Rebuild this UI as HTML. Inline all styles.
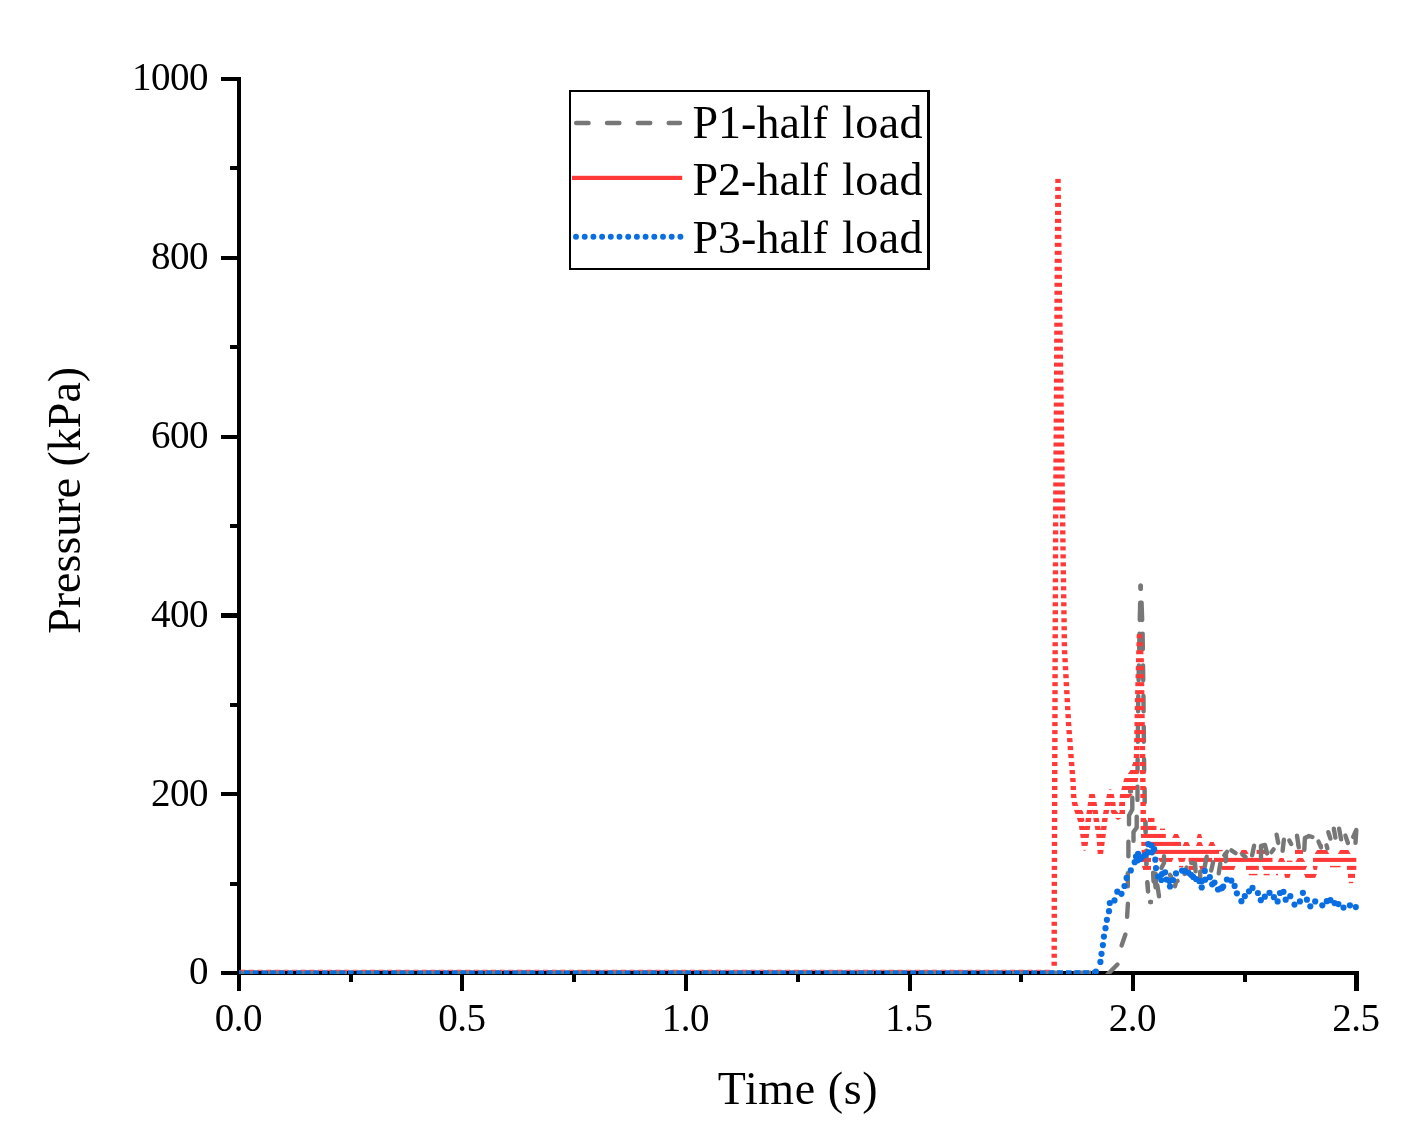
<!DOCTYPE html>
<html><head><meta charset="utf-8"><title>Pressure vs Time</title>
<style>html,body{margin:0;padding:0;background:#fff}svg{display:block;will-change:transform}text{font-family:"Liberation Serif",serif;fill:#000}</style>
</head><body>
<svg width="1423" height="1144" viewBox="0 0 1423 1144">
<rect width="1423" height="1144" fill="#fff"/>
<defs>
<clipPath id="frame"><rect x="237" y="60" width="1124" height="914"/></clipPath>
<clipPath id="stripes">
<rect x="1000" y="178.90" width="400" height="4.05"/>
<rect x="1000" y="186.89" width="400" height="4.05"/>
<rect x="1000" y="194.88" width="400" height="4.05"/>
<rect x="1000" y="202.86" width="400" height="4.05"/>
<rect x="1000" y="210.85" width="400" height="4.05"/>
<rect x="1000" y="218.84" width="400" height="4.05"/>
<rect x="1000" y="226.83" width="400" height="4.05"/>
<rect x="1000" y="234.82" width="400" height="4.05"/>
<rect x="1000" y="242.80" width="400" height="4.05"/>
<rect x="1000" y="250.79" width="400" height="4.05"/>
<rect x="1000" y="258.78" width="400" height="4.05"/>
<rect x="1000" y="266.77" width="400" height="4.05"/>
<rect x="1000" y="274.76" width="400" height="4.05"/>
<rect x="1000" y="282.74" width="400" height="4.05"/>
<rect x="1000" y="290.73" width="400" height="4.05"/>
<rect x="1000" y="298.72" width="400" height="4.05"/>
<rect x="1000" y="306.71" width="400" height="4.05"/>
<rect x="1000" y="314.70" width="400" height="4.05"/>
<rect x="1000" y="322.68" width="400" height="4.05"/>
<rect x="1000" y="330.67" width="400" height="4.05"/>
<rect x="1000" y="338.66" width="400" height="4.05"/>
<rect x="1000" y="346.65" width="400" height="4.05"/>
<rect x="1000" y="354.64" width="400" height="4.05"/>
<rect x="1000" y="362.62" width="400" height="4.05"/>
<rect x="1000" y="370.61" width="400" height="4.05"/>
<rect x="1000" y="378.60" width="400" height="4.05"/>
<rect x="1000" y="386.59" width="400" height="4.05"/>
<rect x="1000" y="394.58" width="400" height="4.05"/>
<rect x="1000" y="402.56" width="400" height="4.05"/>
<rect x="1000" y="410.55" width="400" height="4.05"/>
<rect x="1000" y="418.54" width="400" height="4.05"/>
<rect x="1000" y="426.53" width="400" height="4.05"/>
<rect x="1000" y="434.52" width="400" height="4.05"/>
<rect x="1000" y="442.50" width="400" height="4.05"/>
<rect x="1000" y="450.49" width="400" height="4.05"/>
<rect x="1000" y="458.48" width="400" height="4.05"/>
<rect x="1000" y="466.47" width="400" height="4.05"/>
<rect x="1000" y="474.46" width="400" height="4.05"/>
<rect x="1000" y="482.44" width="400" height="4.05"/>
<rect x="1000" y="490.43" width="400" height="4.05"/>
<rect x="1000" y="498.42" width="400" height="4.05"/>
<rect x="1000" y="506.41" width="400" height="4.05"/>
<rect x="1000" y="514.40" width="400" height="4.05"/>
<rect x="1000" y="522.38" width="400" height="4.05"/>
<rect x="1000" y="530.37" width="400" height="4.05"/>
<rect x="1000" y="538.36" width="400" height="4.05"/>
<rect x="1000" y="546.35" width="400" height="4.05"/>
<rect x="1000" y="554.34" width="400" height="4.05"/>
<rect x="1000" y="562.32" width="400" height="4.05"/>
<rect x="1000" y="570.31" width="400" height="4.05"/>
<rect x="1000" y="578.30" width="400" height="4.05"/>
<rect x="1000" y="586.29" width="400" height="4.05"/>
<rect x="1000" y="594.28" width="400" height="4.05"/>
<rect x="1000" y="602.26" width="400" height="4.05"/>
<rect x="1000" y="610.25" width="400" height="4.05"/>
<rect x="1000" y="618.24" width="400" height="4.05"/>
<rect x="1000" y="626.23" width="400" height="4.05"/>
<rect x="1000" y="634.22" width="400" height="4.05"/>
<rect x="1000" y="642.20" width="400" height="4.05"/>
<rect x="1000" y="650.19" width="400" height="4.05"/>
<rect x="1000" y="658.18" width="400" height="4.05"/>
<rect x="1000" y="666.17" width="400" height="4.05"/>
<rect x="1000" y="674.16" width="400" height="4.05"/>
<rect x="1000" y="682.14" width="400" height="4.05"/>
<rect x="1000" y="690.13" width="400" height="4.05"/>
<rect x="1000" y="698.12" width="400" height="4.05"/>
<rect x="1000" y="706.11" width="400" height="4.05"/>
<rect x="1000" y="714.10" width="400" height="4.05"/>
<rect x="1000" y="722.08" width="400" height="4.05"/>
<rect x="1000" y="730.07" width="400" height="4.05"/>
<rect x="1000" y="738.06" width="400" height="4.05"/>
<rect x="1000" y="746.05" width="400" height="4.05"/>
<rect x="1000" y="754.04" width="400" height="4.05"/>
<rect x="1000" y="762.02" width="400" height="4.05"/>
<rect x="1000" y="770.01" width="400" height="4.05"/>
<rect x="1000" y="778.00" width="400" height="4.05"/>
<rect x="1000" y="785.99" width="400" height="4.05"/>
<rect x="1000" y="793.98" width="400" height="4.05"/>
<rect x="1000" y="801.96" width="400" height="4.05"/>
<rect x="1000" y="809.95" width="400" height="4.05"/>
<rect x="1000" y="817.94" width="400" height="4.05"/>
<rect x="1000" y="825.93" width="400" height="4.05"/>
<rect x="1000" y="833.92" width="400" height="4.05"/>
<rect x="1000" y="841.90" width="400" height="4.05"/>
<rect x="1000" y="849.89" width="400" height="4.05"/>
<rect x="1000" y="857.88" width="400" height="4.05"/>
<rect x="1000" y="865.87" width="400" height="4.05"/>
<rect x="1000" y="873.86" width="400" height="4.05"/>
<rect x="1000" y="881.84" width="400" height="4.05"/>
<rect x="1000" y="889.83" width="400" height="4.05"/>
<rect x="1000" y="897.82" width="400" height="4.05"/>
<rect x="1000" y="905.81" width="400" height="4.05"/>
<rect x="1000" y="913.80" width="400" height="4.05"/>
<rect x="1000" y="921.78" width="400" height="4.05"/>
<rect x="1000" y="929.77" width="400" height="4.05"/>
<rect x="1000" y="937.76" width="400" height="4.05"/>
<rect x="1000" y="945.75" width="400" height="4.05"/>
<rect x="1000" y="953.74" width="400" height="4.05"/>
<rect x="1000" y="961.72" width="400" height="4.05"/>
<rect x="1000" y="969.71" width="400" height="4.05"/>
<rect x="1000" y="977.70" width="400" height="4.05"/>
</clipPath>
<clipPath id="rightpart"><rect x="1146.5" y="780" width="230" height="194"/></clipPath>
</defs>
<g fill="#000" shape-rendering="crispEdges">
<rect x="237" y="77" width="4" height="914"/>
<rect x="221" y="971" width="1138" height="4"/>
<rect x="221" y="971" width="18" height="4"/>
<rect x="230" y="882" width="9" height="4"/>
<rect x="221" y="792" width="18" height="4"/>
<rect x="230" y="703" width="9" height="4"/>
<rect x="221" y="613" width="18" height="5"/>
<rect x="230" y="524" width="9" height="4"/>
<rect x="221" y="435" width="18" height="4"/>
<rect x="230" y="345" width="9" height="4"/>
<rect x="221" y="256" width="18" height="4"/>
<rect x="230" y="166" width="9" height="4"/>
<rect x="221" y="77" width="18" height="4"/>
<rect x="237" y="973" width="4" height="18"/>
<rect x="349" y="973" width="4" height="9"/>
<rect x="460" y="973" width="4" height="18"/>
<rect x="572" y="973" width="4" height="9"/>
<rect x="684" y="973" width="4" height="18"/>
<rect x="796" y="973" width="4" height="9"/>
<rect x="908" y="973" width="4" height="18"/>
<rect x="1019" y="973" width="4" height="9"/>
<rect x="1131" y="973" width="4" height="18"/>
<rect x="1243" y="973" width="4" height="9"/>
<rect x="1354" y="973" width="5" height="18"/>
</g>
<g font-size="39px" letter-spacing="-0.5">
<text x="208" y="984.3" text-anchor="end">0</text>
<text x="208" y="805.5" text-anchor="end">200</text>
<text x="208" y="626.7" text-anchor="end">400</text>
<text x="208" y="447.9" text-anchor="end">600</text>
<text x="208" y="269.1" text-anchor="end">800</text>
<text x="208" y="90.3" text-anchor="end">1000</text>
<text x="238.3" y="1031" text-anchor="middle">0.0</text>
<text x="461.8" y="1031" text-anchor="middle">0.5</text>
<text x="685.3" y="1031" text-anchor="middle">1.0</text>
<text x="908.8" y="1031" text-anchor="middle">1.5</text>
<text x="1132.3" y="1031" text-anchor="middle">2.0</text>
<text x="1355.8" y="1031" text-anchor="middle">2.5</text>
</g>
<text x="798" y="1104" font-size="46px" text-anchor="middle" letter-spacing="0.6">Time (s)</text>
<text transform="translate(79.8,500.3) rotate(-90)" font-size="46px" text-anchor="middle">Pressure (kPa)</text>
<g clip-path="url(#frame)">
<g fill="none" stroke="#777777" stroke-width="4.4" stroke-linejoin="round">
<path d="M239,972.6 H1101" stroke-dasharray="17.5 13.5" stroke-dashoffset="2.5"/>
<polyline points="1140.6,585.7 1140.2,601.0 1139.5,632.0 1138.2,700.0 1137.4,785.0" stroke-dasharray="3.1 13.9 17.3 13.7 15.6 16.1 14.9 15.8 15.2 15.4 15.1 17.5 12 600" stroke-linecap="round"/>
<polyline points="1140.6,585.7 1141.5,601.0 1142.6,632.0 1143.5,700.0 1144.3,785.0" stroke-dasharray="3.1 13.9 17.3 13.7 15.6 16.1 14.9 15.8 15.2 15.4 15.1 17.5 12 600" stroke-linecap="round"/>
</g>
<g fill="none" stroke="#777777" stroke-width="4.4" stroke-linejoin="round" stroke-linecap="round">
<polyline points="1106.2,975.8 1117.4,964.5"/>
<polyline points="1121.6,945.4 1125.4,934.6"/>
<polyline points="1127.1,916.8 1127.9,903.7"/>
<polyline points="1127.8,886.3 1127.8,873.2"/>
<polyline points="1128.4,856.3 1128.4,841.7"/>
<polyline points="1129.0,824.3 1129.0,815.5 1132.3,809.5 1132.3,797.7"/>
<polyline points="1133.5,840.7 1133.5,832.0 1136.7,827.5 1136.7,816.7"/>
<polyline points="1137.5,799.9 1137.5,786.7"/>
<polyline points="1130.0,791.6 1131.0,791.4"/>
<polyline points="1144.5,788.7 1144.7,802.3"/>
<polyline points="1145.3,821.7 1145.5,832.3"/>
<polyline points="1146.3,850.7 1146.3,864.3"/>
<polyline points="1147.2,882.3 1148.0,891.3"/>
<polyline points="1150.3,902.0 1150.9,902.0"/>
</g>
<g clip-path="url(#stripes)"><g fill="none" stroke="#ff3838" stroke-width="5.4" stroke-linejoin="round">
<polyline points="1054.2,967.0 1054.3,900.0 1055.0,700.0 1055.6,530.0 1056.5,400.0 1057.4,250.0 1058.0,179.0 1059.5,300.0 1061.0,400.0 1062.6,520.0 1064.5,650.0 1068.6,724.0 1071.0,756.0 1073.0,781.0 1073.6,796.0 1075.0,805.0 1078.0,813.0 1081.0,822.0 1083.0,835.0 1084.6,848.0 1088.0,822.0 1090.0,808.0 1092.0,794.0 1094.5,806.0 1096.0,818.0 1099.0,835.0 1100.4,854.0 1103.0,835.0 1105.0,818.0 1107.5,804.0 1110.5,792.0 1112.5,801.0 1113.8,812.0 1118.0,817.0 1122.3,814.0 1122.3,804.0"/>
<polygon points="1058.0,179.0 1057.4,250.0 1056.5,400.0 1055.7,512.0 1062.5,512.0 1061.0,400.0 1059.5,300.0" fill="#ff3838" stroke="none"/>
<polygon points="1076.0,805.0 1079.0,806.0 1083.2,812.0 1084.3,821.0 1080.0,821.0" fill="#ff3838" stroke="none"/>
<polyline points="1135.5,775.0 1136.5,760.0 1137.6,700.0 1139.4,634.0 1141.2,660.0 1142.6,760.0 1143.4,830.0 1145.0,868.0"/>
</g>
<polygon points="1119.0,808.0 1119.3,802.0 1120.0,795.0 1122.0,787.0 1124.0,779.0 1130.0,771.0 1133.4,762.0 1134.5,750.0 1139.0,750.0 1138.4,771.0 1138.0,779.0 1137.0,787.0 1132.0,795.0 1125.0,802.0 1125.0,808.0" fill="#ff3838"/>
<g fill="#ff3838">
<rect x="1148" y="817.0" width="6.5" height="6"/>
<rect x="1141" y="825.0" width="15.5" height="6"/>
<rect x="1160" y="828.6" width="5.0" height="3"/>
<rect x="1141" y="833.0" width="24.8" height="6"/>
<polygon points="1172,838.5 1174.2,833.7 1177.8,833.7 1180,838.5"/>
<polygon points="1196.4,838.5 1198.1,833.7 1200.8,833.7 1202.5,838.5"/>
<rect x="1142" y="841.0" width="39.0" height="6"/>
<polygon points="1182.4,846.5 1184.6,841.7 1188.1,841.7 1190.3,846.5"/>
<polygon points="1195.6,846.5 1197.8,841.7 1201.2,841.7 1203.4,846.5"/>
<polygon points="1208,846.5 1210.2,841.7 1213.5,841.7 1215.7,846.5"/>
<rect x="1296" y="844.6" width="4.0" height="3"/>
<rect x="1320" y="844.6" width="3.0" height="3"/>
<rect x="1142" y="849.0" width="77.0" height="6"/>
<rect x="1219" y="849.0" width="3.7" height="2.3"/>
<polygon points="1239,854.5 1241.8,849.7 1246.2,849.7 1249,854.5"/>
<rect x="1256.6" y="849.0" width="8.7" height="6"/>
<rect x="1295" y="849.0" width="8.0" height="6"/>
<polygon points="1314.3,854.5 1317.3,849.7 1326.6,849.7 1329.6,854.5"/>
<polygon points="1337.5,854.5 1340.5,849.7 1348.0,849.7 1351,854.5"/>
<rect x="1146.6" y="857.0" width="4.4" height="6"/>
<polygon points="1158,857.5 1173.7,857.5 1171.7,862.2 1160.0,862.2"/>
<polygon points="1177.6,857.5 1186,857.5 1184.3,862.2 1179.3,862.2"/>
<rect x="1188.6" y="857.0" width="23.6" height="6"/>
<rect x="1214" y="857.0" width="58.5" height="6"/>
<polygon points="1277.6,862.5 1279.8,857.7 1283.3,857.7 1285.5,862.5"/>
<rect x="1287" y="860.6" width="5.4" height="3"/>
<polygon points="1295,862.5 1298.0,857.7 1302.6,857.7 1305.6,862.5"/>
<rect x="1313" y="857.0" width="43.3" height="6"/>
<rect x="1143" y="865.0" width="8.0" height="6"/>
<rect x="1179" y="865.0" width="4.3" height="2.3"/>
<rect x="1188.6" y="865.0" width="6.1" height="6"/>
<polygon points="1199,865.5 1207,865.5 1205.4,870.2 1200.6,870.2"/>
<polygon points="1220,865.5 1235.8,865.5 1233.8,870.2 1222.0,870.2"/>
<rect x="1246" y="865.0" width="12.8" height="6"/>
<polygon points="1261.9,865.5 1307.3,865.5 1305.3,870.2 1263.9,870.2"/>
<polygon points="1312.6,865.5 1317.8,865.5 1316.8,870.2 1313.6,870.2"/>
<rect x="1330" y="865.0" width="10.5" height="2.3"/>
<rect x="1347" y="865.0" width="9.3" height="6"/>
<rect x="1248.7" y="873.0" width="8.8" height="2.3"/>
<rect x="1263.6" y="873.0" width="6.1" height="2.3"/>
<rect x="1276" y="873.0" width="2.0" height="2.3"/>
<polygon points="1284,873.5 1290.7,873.5 1289.4,878.2 1285.3,878.2"/>
<polygon points="1303.8,873.5 1317,873.5 1315.0,878.2 1305.8,878.2"/>
<rect x="1348" y="873.0" width="7.0" height="6"/>
<rect x="1348.8" y="880.9" width="4.4" height="2.3"/>
</g>
</g>
<g fill="none" stroke="#777777" stroke-width="4.4" stroke-linejoin="round" stroke-linecap="round">
<polyline points="1153.1,872.7 1153.5,881.0 1157.4,885.5 1159.0,896.3"/>
<polyline points="1155.6,873.7 1155.9,882.3"/>
<polyline points="1154.7,877.7 1155.6,887.3"/>
<polyline points="1164.0,856.2 1164.0,863.0 1161.4,868.0"/>
<polyline points="1169.9,874.9 1171.1,876.6"/>
<polyline points="1177.6,880.9 1176.0,882.0 1175.0,886.3"/>
<polyline points="1184.5,873.9 1186.5,867.6"/>
<polyline points="1191.2,862.8 1195.0,863.5 1195.6,871.3"/>
<polyline points="1200.2,871.7 1200.2,881.8"/>
<polyline points="1206.7,856.7 1204.8,866.3"/>
<polyline points="1213.1,862.2 1211.2,870.6"/>
<polyline points="1220.3,863.7 1218.7,873.3"/>
<polyline points="1227.0,851.8 1224.3,855.2"/>
<polyline points="1226.0,854.7 1225.8,861.3"/>
<polyline points="1231.4,850.4 1235.6,853.1"/>
<polyline points="1242.4,854.5 1245.6,857.0"/>
<polyline points="1254.1,845.7 1252.1,855.3"/>
<polyline points="1261.0,857.8 1261.0,846.0 1265.0,845.0 1267.1,853.4"/>
<polyline points="1273.5,849.4 1271.6,852.1"/>
<polyline points="1276.6,834.7 1278.2,842.9"/>
<polyline points="1283.9,839.7 1282.6,850.7"/>
<polyline points="1289.3,840.5 1291.2,844.0"/>
<polyline points="1297.0,835.7 1298.8,847.3"/>
<polyline points="1304.3,849.9 1304.9,838.0 1309.0,836.0 1312.4,837.0"/>
<polyline points="1318.5,841.6 1321.0,847.4"/>
<polyline points="1326.5,845.3 1327.4,848.4"/>
<polyline points="1328.3,832.2 1330.4,838.6"/>
<polyline points="1333.8,828.7 1335.4,837.6"/>
<polyline points="1339.1,828.7 1341.1,839.3"/>
<polyline points="1345.4,835.6 1347.9,843.0"/>
<polyline points="1353.2,836.9 1356.3,830.0 1355.5,842.9"/>
</g>
<g clip-path="url(#rightpart)">
<g fill="none" stroke="#777777" stroke-width="4.4" stroke-linejoin="round" stroke-linecap="round">
<polyline points="1106.2,975.8 1117.4,964.5"/>
<polyline points="1121.6,945.4 1125.4,934.6"/>
<polyline points="1127.1,916.8 1127.9,903.7"/>
<polyline points="1127.8,886.3 1127.8,873.2"/>
<polyline points="1128.4,856.3 1128.4,841.7"/>
<polyline points="1129.0,824.3 1129.0,815.5 1132.3,809.5 1132.3,797.7"/>
<polyline points="1133.5,840.7 1133.5,832.0 1136.7,827.5 1136.7,816.7"/>
<polyline points="1137.5,799.9 1137.5,786.7"/>
<polyline points="1130.0,791.6 1131.0,791.4"/>
<polyline points="1144.5,788.7 1144.7,802.3"/>
<polyline points="1145.3,821.7 1145.5,832.3"/>
<polyline points="1146.3,850.7 1146.3,864.3"/>
<polyline points="1147.2,882.3 1148.0,891.3"/>
<polyline points="1150.3,902.0 1150.9,902.0"/>
</g></g>
<path d="M239,972.15 H1093" fill="none" stroke="#0a6ee3" stroke-width="3.9" stroke-dasharray="5.7 2.95" stroke-dashoffset="3.47"/>
<path d="M239,970.25 H1052" fill="none" stroke="#ff3838" stroke-width="1.0" stroke-dasharray="4.9 3.75" stroke-dashoffset="-1.25"/>
<g fill="#0a6ee3">
<circle cx="1095.9" cy="971.5" r="3.1"/>
<circle cx="1100.4" cy="961.9" r="3.1"/>
<circle cx="1101.5" cy="953.8" r="3.1"/>
<circle cx="1102.9" cy="945.1" r="3.1"/>
<circle cx="1103.9" cy="936.6" r="3.1"/>
<circle cx="1105.5" cy="928.2" r="3.1"/>
<circle cx="1106.9" cy="919.8" r="3.1"/>
<circle cx="1109" cy="911.2" r="3.1"/>
<circle cx="1109.8" cy="903" r="3.1"/>
<circle cx="1114.5" cy="900.4" r="3.1"/>
<circle cx="1117.3" cy="891.7" r="3.1"/>
<circle cx="1121.5" cy="893.8" r="3.1"/>
<circle cx="1124.5" cy="886" r="3.1"/>
<circle cx="1126.6" cy="877.9" r="3.1"/>
<circle cx="1130.8" cy="870.4" r="3.1"/>
<circle cx="1134.7" cy="862.2" r="3.1"/>
<circle cx="1138.1" cy="853.9" r="3.1"/>
<circle cx="1142" cy="857" r="3.1"/>
<circle cx="1145.2" cy="854.9" r="3.1"/>
<circle cx="1148.3" cy="852.3" r="3.1"/>
<circle cx="1152" cy="852.3" r="3.1"/>
<circle cx="1154.1" cy="849.2" r="3.1"/>
<circle cx="1151.5" cy="845.5" r="3.1"/>
<circle cx="1148.3" cy="844.2" r="3.1"/>
<circle cx="1137.8" cy="860.3" r="3.1"/>
<circle cx="1136" cy="856.5" r="3.1"/>
<circle cx="1140.5" cy="859" r="3.1"/>
<circle cx="1155.3" cy="859.7" r="3.1"/>
<circle cx="1156" cy="868.1" r="3.1"/>
<circle cx="1158.1" cy="876.5" r="3.1"/>
<circle cx="1161.3" cy="880" r="3.1"/>
<circle cx="1165.1" cy="872.3" r="3.1"/>
<circle cx="1162" cy="874" r="3.1"/>
<circle cx="1169.4" cy="881.1" r="3.1"/>
<circle cx="1170" cy="886.4" r="3.1"/>
<circle cx="1173" cy="880" r="3.1"/>
<circle cx="1166.5" cy="879.5" r="3.1"/>
<circle cx="1176" cy="873.4" r="3.1"/>
<circle cx="1182" cy="870.6" r="3.1"/>
<circle cx="1185" cy="871.2" r="3.1"/>
<circle cx="1188.3" cy="872.7" r="3.1"/>
<circle cx="1191" cy="874.8" r="3.1"/>
<circle cx="1193.2" cy="876.9" r="3.1"/>
<circle cx="1196" cy="879" r="3.1"/>
<circle cx="1199.2" cy="881.1" r="3.1"/>
<circle cx="1202" cy="881" r="3.1"/>
<circle cx="1205.2" cy="879.7" r="3.1"/>
<circle cx="1209.8" cy="877.2" r="3.1"/>
<circle cx="1204.8" cy="870.9" r="3.1"/>
<circle cx="1201.7" cy="887.4" r="3.1"/>
<circle cx="1212.2" cy="884.3" r="3.1"/>
<circle cx="1214.5" cy="882.5" r="3.1"/>
<circle cx="1220.7" cy="888.5" r="3.1"/>
<circle cx="1223.2" cy="886.5" r="3.1"/>
<circle cx="1218" cy="889.5" r="3.1"/>
<circle cx="1222" cy="887.9" r="3.1"/>
<circle cx="1226.9" cy="879.5" r="3.1"/>
<circle cx="1231.3" cy="880.7" r="3.1"/>
<circle cx="1234.6" cy="885.9" r="3.1"/>
<circle cx="1236.9" cy="893.3" r="3.1"/>
<circle cx="1241.4" cy="901.2" r="3.1"/>
<circle cx="1244.8" cy="896.2" r="3.1"/>
<circle cx="1249" cy="891.3" r="3.1"/>
<circle cx="1252.5" cy="887.9" r="3.1"/>
<circle cx="1257.9" cy="893" r="3.1"/>
<circle cx="1260.8" cy="900.2" r="3.1"/>
<circle cx="1264.8" cy="896.7" r="3.1"/>
<circle cx="1269.5" cy="892.8" r="3.1"/>
<circle cx="1273.9" cy="897.2" r="3.1"/>
<circle cx="1277.6" cy="901.4" r="3.1"/>
<circle cx="1280" cy="893" r="3.1"/>
<circle cx="1283.5" cy="891.8" r="3.1"/>
<circle cx="1285.7" cy="899.7" r="3.1"/>
<circle cx="1290.3" cy="896.2" r="3.1"/>
<circle cx="1294.5" cy="904.6" r="3.1"/>
<circle cx="1299.9" cy="901.4" r="3.1"/>
<circle cx="1302.9" cy="892.8" r="3.1"/>
<circle cx="1306.9" cy="899.7" r="3.1"/>
<circle cx="1310.3" cy="906.3" r="3.1"/>
<circle cx="1315.2" cy="901.4" r="3.1"/>
<circle cx="1322.3" cy="905.3" r="3.1"/>
<circle cx="1326.8" cy="901.2" r="3.1"/>
<circle cx="1330.4" cy="900.2" r="3.1"/>
<circle cx="1334.6" cy="903.1" r="3.1"/>
<circle cx="1338.4" cy="904.1" r="3.1"/>
<circle cx="1343.5" cy="907.6" r="3.1"/>
<circle cx="1349.9" cy="905.3" r="3.1"/>
<circle cx="1355.8" cy="907.1" r="3.1"/>
</g>
</g>
<rect x="569" y="90" width="361" height="180" fill="#000" shape-rendering="crispEdges"/>
<rect x="571" y="92" width="356" height="176" fill="#fff" shape-rendering="crispEdges"/>
<path d="M576.2,123 H680" fill="none" stroke="#777777" stroke-width="4.5" stroke-linecap="round" stroke-dasharray="12.3 18.55"/>
<rect x="572" y="175.8" width="110.2" height="4.2" fill="#ff3838"/>
<path d="M576,236.7 H681" fill="none" stroke="#0a6ee3" stroke-width="5.9" stroke-linecap="round" stroke-dasharray="0.01 8.69"/>
<g font-size="46px">
<text x="692.5" y="137.8" word-spacing="2.6">P1-half <tspan letter-spacing="0.45">load</tspan></text>
<text x="692.5" y="195.4" word-spacing="2.6">P2-half <tspan letter-spacing="0.45">load</tspan></text>
<text x="692.5" y="253.0" word-spacing="2.6">P3-half <tspan letter-spacing="0.45">load</tspan></text>
</g>
</svg></body></html>
